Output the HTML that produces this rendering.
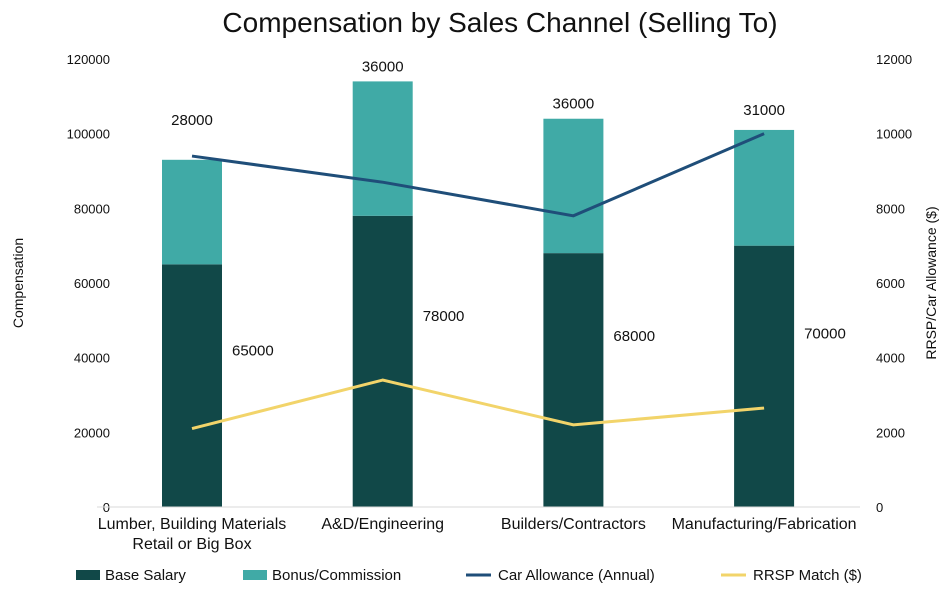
<!DOCTYPE html>
<html><head><meta charset="utf-8">
<style>
html,body{margin:0;padding:0;background:#fff;}
svg text{font-family:"Liberation Sans",sans-serif;fill:#111;}
</style></head>
<body>
<svg width="948" height="593" viewBox="0 0 948 593" xmlns="http://www.w3.org/2000/svg">
<text x="500" y="32" font-size="28" text-anchor="middle">Compensation by Sales Channel (Selling To)</text>
<text transform="translate(23,283) rotate(-90)" font-size="14" text-anchor="middle">Compensation</text>
<text transform="translate(936,283) rotate(-90)" font-size="14" text-anchor="middle">RRSP/Car Allowance ($)</text>
<g id="plot"></g>
<g id="legend"></g>
</svg>
<script>
const categories=[["Lumber, Building Materials","Retail or Big Box"],["A&D/Engineering"],["Builders/Contractors"],["Manufacturing/Fabrication"]];
const baseSalary=[65000,78000,68000,70000];
const bonus=[28000,36000,36000,31000];
const carAllowance=[9400,8700,7800,10000];
const rrsp=[2100,3400,2200,2650];
const leftTicks=[0,20000,40000,60000,80000,100000,120000];
const rightTicks=[0,2000,4000,6000,8000,10000,12000];

const NS="http://www.w3.org/2000/svg";
const plot=document.getElementById('plot');
const y0=507,yTop=59;
const yL=v=>y0-(v/120000)*(y0-yTop);
const yR=v=>y0-(v/12000)*(y0-yTop);
const xC=i=>192+i*190.7;
const bw=60;
const bonusLabelOffset=[35,10,10,15];
const baseLabelOffset=[91,105,88,93];
function mk(tag,attrs,parent){const e=document.createElementNS(NS,tag);for(const k in attrs)e.setAttribute(k,attrs[k]);(parent||plot).appendChild(e);return e;}

leftTicks.forEach(t=>{const e=mk('text',{x:110,y:yL(t)+5,'font-size':13,'text-anchor':'end'});e.textContent=t;

});
rightTicks.forEach(t=>{const e=mk('text',{x:876,y:yR(t)+5,'font-size':13,'text-anchor':'start'});e.textContent=t;

});

categories.forEach((c,i)=>{
  const b=mk('rect',{x:xC(i)-bw/2,y:yL(baseSalary[i]),width:bw,height:y0-yL(baseSalary[i]),fill:'#114848'});
  
  
  const tot=baseSalary[i]+bonus[i];
  const t=mk('rect',{x:xC(i)-bw/2,y:yL(tot),width:bw,height:yL(baseSalary[i])-yL(tot),fill:'#40aaa6'});
  
  
  const bl=mk('text',{x:xC(i),y:yL(tot)-bonusLabelOffset[i],'font-size':15,'text-anchor':'middle'});
  bl.textContent=bonus[i];
  
  
  const sl=mk('text',{x:xC(i)+40,y:yL(baseSalary[i])+baseLabelOffset[i],'font-size':15,'text-anchor':'start'});
  sl.textContent=baseSalary[i];
  
  
  c.forEach((ln,j)=>{const e=mk('text',{x:xC(i),y:529+j*20,'font-size':16,'text-anchor':'middle'});
    e.textContent=ln;
    
    });
});
mk('line',{x1:97,x2:860,y1:y0,y2:y0,stroke:'#d9d9d9','stroke-width':1});
const car=mk('polyline',{points:carAllowance.map((v,i)=>xC(i)+','+yR(v)).join(' '),fill:'none',stroke:'#1f4e79','stroke-width':3});


const rr=mk('polyline',{points:rrsp.map((v,i)=>xC(i)+','+yR(v)).join(' '),fill:'none',stroke:'#f2d46a','stroke-width':3});



const lg=document.getElementById('legend');
const items=[["Base Salary","#114848","rect",76],["Bonus/Commission","#40aaa6","rect",243],["Car Allowance (Annual)","#1f4e79","line",466],["RRSP Match ($)","#f2d46a","line",721]];
items.forEach(it=>{
  const g=mk('g',{},lg);
  
  
  if(it[2]==='rect')mk('rect',{x:it[3],y:570,width:24,height:10,fill:it[1]},g);
  else mk('line',{x1:it[3],x2:it[3]+25,y1:575,y2:575,stroke:it[1],'stroke-width':3},g);
  const t=mk('text',{x:it[3]+(it[2]==='rect'?29:32),y:580,'font-size':15},g);t.textContent=it[0];
});
</script>
</body></html>
